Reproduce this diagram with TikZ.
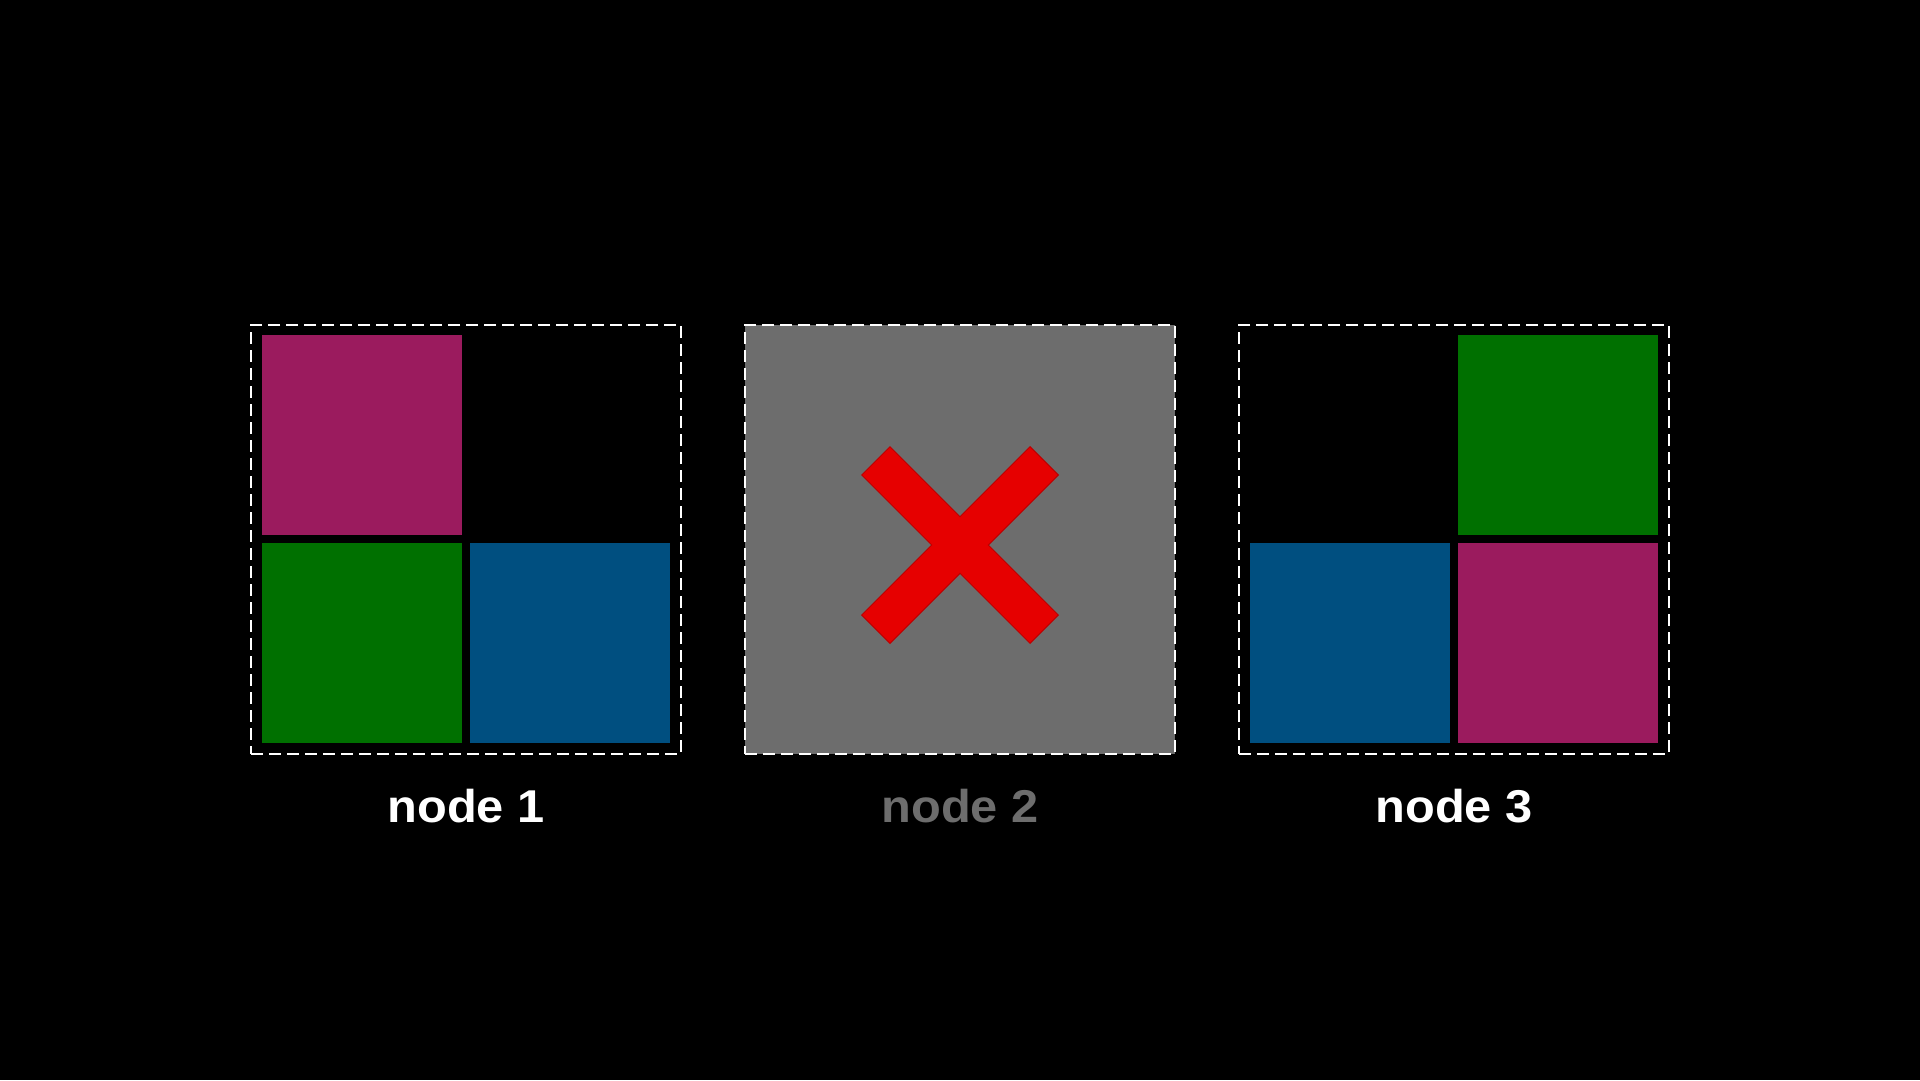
\documentclass[tikz,border=0pt]{standalone}
\usepackage{fontspec}
\setmainfont{Liberation Sans}
\newfontfamily\lblfont[FakeStretch=1.06]{Liberation Sans}
\definecolor{cmag}{RGB}{155,27,94}
\definecolor{cgreen}{RGB}{0,112,0}
\definecolor{cblue}{RGB}{0,79,128}
\definecolor{cgray}{RGB}{109,109,109}
\definecolor{cred}{RGB}{230,0,0}
\definecolor{credd}{RGB}{190,0,0}
\begin{document}
\begin{tikzpicture}[x=1pt,y=-1pt,
  frame/.style={draw=white,line width=2pt,dash pattern=on 12pt off 6pt,minimum width=430pt,minimum height=429pt,inner sep=0pt},
  cell/.style={minimum size=200pt,inner sep=0pt,draw=none},
  lbl/.style={font=\lblfont\bfseries\fontsize{46}{54}\selectfont,anchor=base,inner sep=0pt}]
\fill[black] (0,0) rectangle (1920,1080);
\useasboundingbox (0,0) rectangle (1920,1080);
% node 1
\node[frame] (box1) at (466,539.5) {};
\node[cell,fill=cmag] (m1) at (362,435) {};
\node[cell,fill=cgreen] (g1) at (362,643) {};
\node[cell,fill=cblue] (b1) at (570,643) {};
\node[lbl,text=white] (l1) at (466,822) {node 1};
% node 2
\node[frame,fill=cgray] (box2) at (960,539.5) {};
\begin{scope}[shift={(960,545)},rotate=45]
\filldraw[fill=cred,draw=credd,line width=1pt,line join=miter]
  (119,20) -- (20,20) -- (20,119) -- (-20,119) -- (-20,20) -- (-119,20)
  -- (-119,-20) -- (-20,-20) -- (-20,-119) -- (20,-119) -- (20,-20) -- (119,-20) -- cycle;
\end{scope}
\node[lbl,text=cgray] (l2) at (960,822) {node 2};
% node 3
\node[frame] (box3) at (1454,539.5) {};
\node[cell,fill=cgreen] (g3) at (1558,435) {};
\node[cell,fill=cblue] (b3) at (1350,643) {};
\node[cell,fill=cmag] (m3) at (1558,643) {};
\node[lbl,text=white] (l3) at (1454,822) {node 3};
\end{tikzpicture}
\end{document}
